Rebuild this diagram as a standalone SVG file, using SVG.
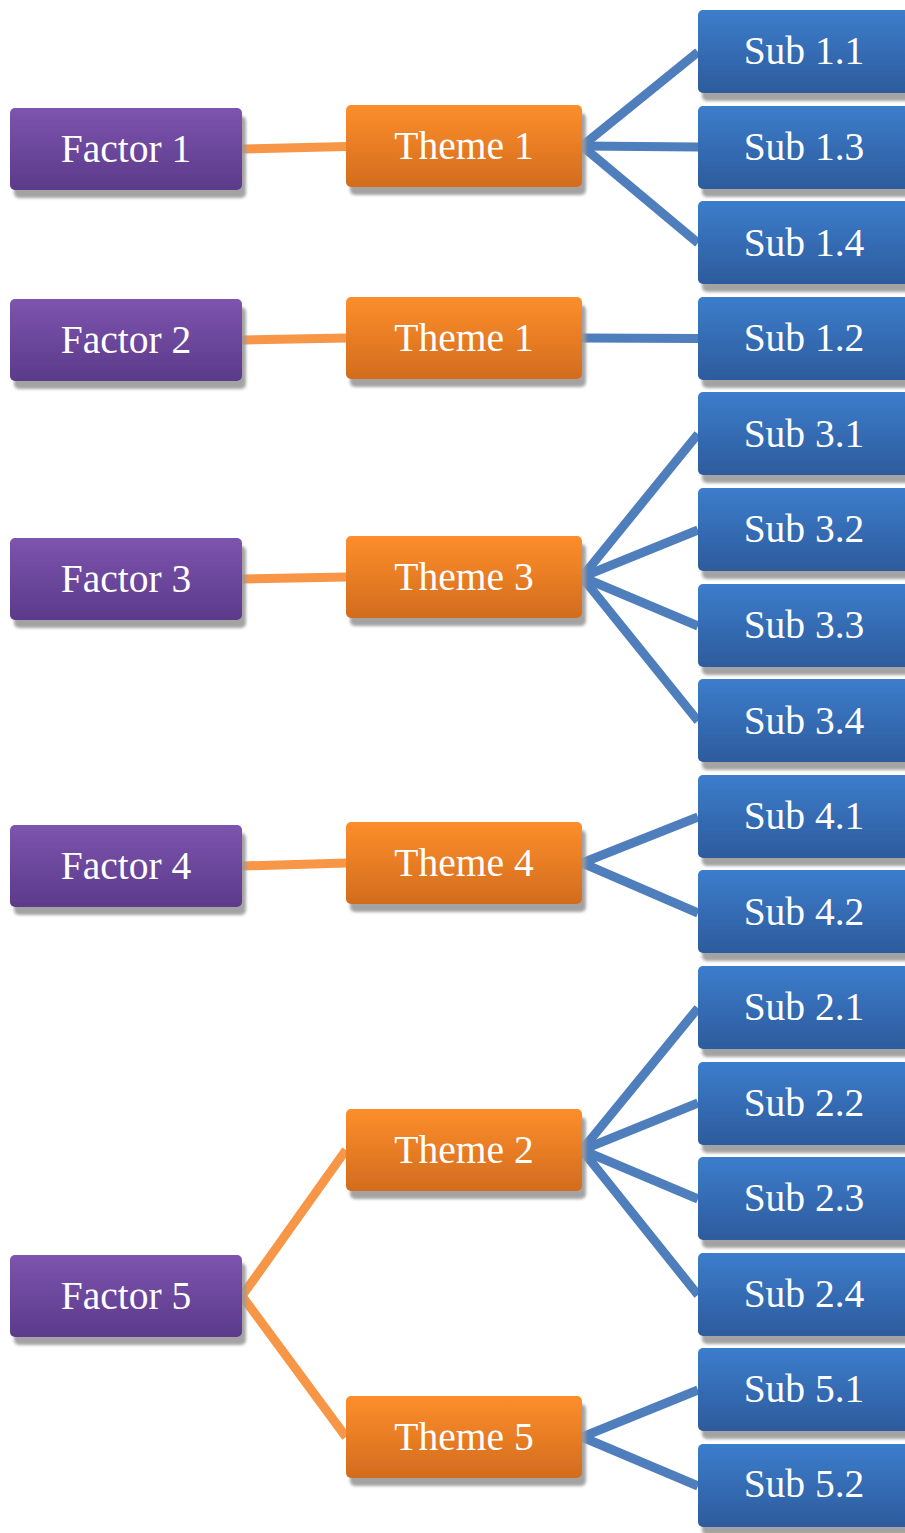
<svg xmlns="http://www.w3.org/2000/svg" width="905" height="1533" viewBox="0 0 905 1533">
<defs>
<linearGradient id="gP" x1="0" y1="0" x2="0" y2="1"><stop offset="0" stop-color="#7d54ae"/><stop offset="1" stop-color="#5b3a8a"/></linearGradient>
<linearGradient id="gO" x1="0" y1="0" x2="0" y2="1"><stop offset="0" stop-color="#fd8e2b"/><stop offset="1" stop-color="#d26c1e"/></linearGradient>
<linearGradient id="gB" x1="0" y1="0" x2="0" y2="1"><stop offset="0" stop-color="#3c7dcc"/><stop offset="1" stop-color="#2d5b9c"/></linearGradient>
<filter id="sh" x="-5%" y="-10%" width="115%" height="140%">
<feGaussianBlur in="SourceAlpha" stdDeviation="1.5"/>
<feOffset dx="4" dy="8" result="o"/>
<feFlood flood-color="#999999" flood-opacity="0.9"/>
<feComposite in2="o" operator="in"/>
<feMerge><feMergeNode/><feMergeNode in="SourceGraphic"/></feMerge>
</filter>
</defs>
<style>
.f{fill:url(#gP);filter:url(#sh)}
.t{fill:url(#gO);filter:url(#sh)}
.s{fill:url(#gB);filter:url(#sh)}
text{font-family:"Liberation Serif","Times New Roman",serif;font-size:39.5px;fill:#ffffff;text-anchor:middle}
.ob{stroke:#f79646;stroke-width:9;fill:none}
.bl{stroke:#4f7ebd;stroke-width:9;fill:none}
</style>
<g id="connectors">
<line class="ob" x1="242" y1="149" x2="346" y2="146.5"/>
<line class="ob" x1="242" y1="340" x2="346" y2="338"/>
<line class="ob" x1="242" y1="579" x2="346" y2="577"/>
<line class="ob" x1="242" y1="866" x2="346" y2="863"/>
<polyline class="ob" points="346,1150 242,1296 346,1437"/>
<polyline class="bl" points="698,52 582,146 698,243"/>
<line class="bl" x1="582" y1="146" x2="698" y2="147"/>
<line class="bl" x1="582" y1="338" x2="698" y2="338.5"/>
<polyline class="bl" points="698,434 582,577 698,721"/>
<polyline class="bl" points="698,530 582,577 698,626"/>
<polyline class="bl" points="698,817 582,863 698,913"/>
<polyline class="bl" points="698,1008 582,1150 698,1295"/>
<polyline class="bl" points="698,1103 582,1150 698,1199"/>
<polyline class="bl" points="698,1390 582,1437 698,1486"/>
</g>
<g id="factor1"><rect class="f" x="10" y="108" width="232" height="82" rx="5"/><text x="126" y="162">Factor 1</text></g>
<g id="factor2"><rect class="f" x="10" y="299" width="232" height="82" rx="5"/><text x="126" y="353">Factor 2</text></g>
<g id="factor3"><rect class="f" x="10" y="538" width="232" height="82" rx="5"/><text x="126" y="592">Factor 3</text></g>
<g id="factor4"><rect class="f" x="10" y="825" width="232" height="82" rx="5"/><text x="126" y="879">Factor 4</text></g>
<g id="factor5"><rect class="f" x="10" y="1255" width="232" height="82" rx="5"/><text x="126" y="1309">Factor 5</text></g>
<g id="theme1a"><rect class="t" x="346" y="105" width="236" height="82" rx="5"/><text x="464" y="159">Theme 1</text></g>
<g id="theme1b"><rect class="t" x="346" y="297" width="236" height="82" rx="5"/><text x="464" y="351">Theme 1</text></g>
<g id="theme3"><rect class="t" x="346" y="536" width="236" height="82" rx="5"/><text x="464" y="590">Theme 3</text></g>
<g id="theme4"><rect class="t" x="346" y="822" width="236" height="82" rx="5"/><text x="464" y="876">Theme 4</text></g>
<g id="theme2"><rect class="t" x="346" y="1109" width="236" height="82" rx="5"/><text x="464" y="1163">Theme 2</text></g>
<g id="theme5"><rect class="t" x="346" y="1396" width="236" height="82" rx="5"/><text x="464" y="1450">Theme 5</text></g>
<g id="sub11"><rect class="s" x="698" y="10" width="222" height="83" rx="5"/><text x="804" y="64">Sub 1.1</text></g>
<g id="sub13"><rect class="s" x="698" y="106" width="222" height="83" rx="5"/><text x="804" y="160">Sub 1.3</text></g>
<g id="sub14"><rect class="s" x="698" y="201" width="222" height="83" rx="5"/><text x="804" y="256">Sub 1.4</text></g>
<g id="sub12"><rect class="s" x="698" y="297" width="222" height="83" rx="5"/><text x="804" y="351">Sub 1.2</text></g>
<g id="sub31"><rect class="s" x="698" y="392" width="222" height="83" rx="5"/><text x="804" y="447">Sub 3.1</text></g>
<g id="sub32"><rect class="s" x="698" y="488" width="222" height="83" rx="5"/><text x="804" y="542">Sub 3.2</text></g>
<g id="sub33"><rect class="s" x="698" y="584" width="222" height="83" rx="5"/><text x="804" y="638">Sub 3.3</text></g>
<g id="sub34"><rect class="s" x="698" y="679" width="222" height="83" rx="5"/><text x="804" y="734">Sub 3.4</text></g>
<g id="sub41"><rect class="s" x="698" y="775" width="222" height="83" rx="5"/><text x="804" y="829">Sub 4.1</text></g>
<g id="sub42"><rect class="s" x="698" y="870" width="222" height="83" rx="5"/><text x="804" y="925">Sub 4.2</text></g>
<g id="sub21"><rect class="s" x="698" y="966" width="222" height="83" rx="5"/><text x="804" y="1020">Sub 2.1</text></g>
<g id="sub22"><rect class="s" x="698" y="1062" width="222" height="83" rx="5"/><text x="804" y="1116">Sub 2.2</text></g>
<g id="sub23"><rect class="s" x="698" y="1157" width="222" height="83" rx="5"/><text x="804" y="1211">Sub 2.3</text></g>
<g id="sub24"><rect class="s" x="698" y="1253" width="222" height="83" rx="5"/><text x="804" y="1307">Sub 2.4</text></g>
<g id="sub51"><rect class="s" x="698" y="1348" width="222" height="83" rx="5"/><text x="804" y="1402">Sub 5.1</text></g>
<g id="sub52"><rect class="s" x="698" y="1444" width="222" height="83" rx="5"/><text x="804" y="1497">Sub 5.2</text></g>
</svg>
